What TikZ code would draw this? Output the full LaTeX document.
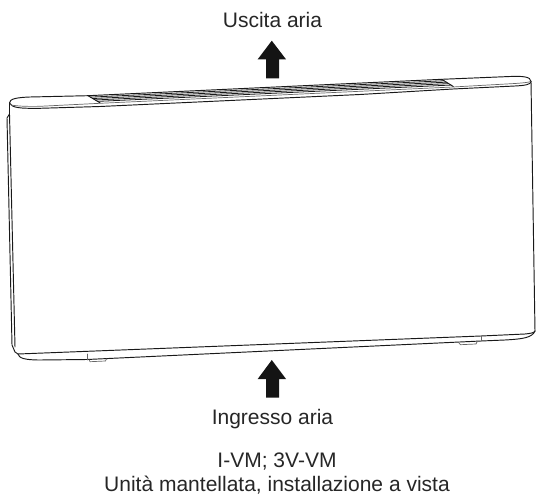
\documentclass[tikz,border=0pt]{standalone}
\usepackage{fontspec}
\setmainfont{Liberation Sans}
\tikzset{
  line/.style={draw=black!90,line width=0.95pt,line join=round,line cap=round},
  thin line/.style={draw=black!60,line width=0.7pt,line cap=round},
  bigarrow/.style={fill=black!92,draw=none},
  lab/.style={font=\fontsize{21}{24}\selectfont,text=black!85,inner sep=0pt,anchor=base}
}
\begin{document}
\begin{tikzpicture}[x=1pt,y=-1pt]
\useasboundingbox (0,0) rectangle (536,495);
% top
\draw[line] (9.5,103) .. controls (9.5,99) and (16,97.5) .. (30,97) -- (88,95.7) -- (441.7,79.3) -- (510,76.5) .. controls (522,76) and (531,76.5) .. (531,81.5);
\draw[line] (9.5,103) .. controls (12,108) and (20,108.5) .. (40,108.3) -- (100,106.5) -- (360,94.5) -- (453,89) -- (515,86) .. controls (525,85.5) and (531,84.5) .. (531,81.5);
\draw[thin line] (11,105) .. controls (20,106.5) and (30,106.5) .. (40,106.3) -- (100,103.3) -- (453,87) -- (515,83.5) .. controls (522,83) and (528,82.5) .. (531,81.5);
% grille
\draw[line] (88,95.7) -- (100,102.8);
\draw[line] (441.7,79.3) -- (453.3,86.5);
\foreach \i in {1,2,3,4}{
  \draw[line,line width=0.8pt] ({88+\i*2.4},{95.7+\i*1.42}) -- ({441.7+\i*2.32},{79.3+\i*1.44});
}
% sides
\draw[line] (9.5,103) -- (9.5,114) -- (7,118) -- (12,345) -- (15,352) -- (18,354);
\draw[line] (9.5,114) -- (15,347);
\draw[line] (531,81.5) -- (535,331);
% bottom
\draw[line] (18,354) -- (481,336) -- (525,334) .. controls (530,333.5) and (534,333) .. (535,331);
\draw[line] (18,354) .. controls (19,358) and (24,360) .. (40,360) -- (87,359.5) -- (481,341) -- (505,340) .. controls (522,339) and (532,338) .. (535,331);
\draw[thin line] (87,354) -- (87,360);
\draw[thin line] (481,336) -- (481,341);
% feet
\draw[thin line] (89,359.5) -- (90,361.7) -- (105.5,361) -- (106.5,358.8);
\draw[thin line] (459,343) -- (460.5,344.7) -- (476,344) -- (477,342);
% arrows
\fill[bigarrow] (271.8,40.7) -- (257.7,59.3) -- (266,59.3) -- (266,78.3) -- (279,78.3) -- (279,59.3) -- (286,59.3) -- cycle;
\fill[bigarrow] (271.8,360) -- (257.7,379) -- (266,379) -- (266,397.5) -- (279,397.5) -- (279,379) -- (286,379) -- cycle;
% labels
\node[lab] (out) at (272.5,28) {Uscita aria};
\node[lab] (in) at (272.5,424) {Ingresso aria};
\node[lab] (cap1) at (277,467) {I-VM; 3V-VM};
\node[lab] (cap2) at (277,491) {Unità mantellata, installazione a vista};
\end{tikzpicture}
\end{document}
